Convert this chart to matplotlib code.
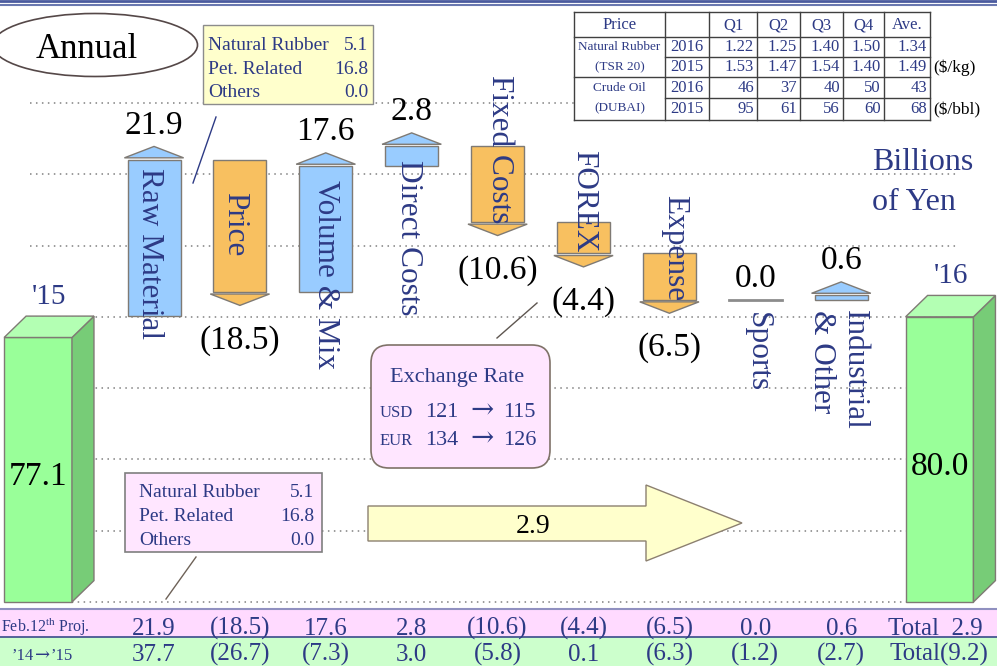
import matplotlib
matplotlib.use('Agg')
import matplotlib.pyplot as plt
import matplotlib.transforms as mtransforms
from matplotlib.patches import Rectangle, Polygon, Ellipse, FancyBboxPatch

plt.rcParams['font.family'] = ['Liberation Serif', 'DejaVu Serif']
plt.rcParams['mathtext.fontset'] = 'custom'
plt.rcParams['mathtext.rm'] = 'Liberation Serif'

# operating income bridge, billions of yen
start_label = "'15"
end_label = "'16"
start_total = 77.1
end_total = 80.0
step_names = ['Raw Material', 'Price', 'Volume & Mix', 'Direct Costs', 'Fixed Costs',
              'FOREX', 'Expense', 'Sports', 'Industrial\n& Other']
step_values = [21.9, -18.5, 17.6, 2.8, -10.6, -4.4, -6.5, 0.0, 0.6]
prev_values = [37.7, -26.7, -7.3, 3.0, -5.8, 0.1, -6.3, -1.2, -2.7]
proj_label = 'Feb.12$^{\\rm th}$ Proj.'
prev_from, prev_to = '\u201914', '\u201915'

# raw material breakdown
rm_items = ['Natural Rubber', 'Pet. Related', 'Others']
rm_values = [5.1, 16.8, 0.0]

# market prices
price_cols = ['Q1', 'Q2', 'Q3', 'Q4', 'Ave.']
rubber_2016 = [1.22, 1.25, 1.40, 1.50, 1.34]
rubber_2015 = [1.53, 1.47, 1.54, 1.40, 1.49]
oil_2016 = [46, 37, 40, 50, 43]
oil_2015 = [95, 61, 56, 60, 68]

fx_names = ['USD', 'EUR']
fx_2015 = [121, 134]
fx_2016 = [115, 126]

NAVY = '#2D3A85'
BLUE = '#99CCFF'
ORANGE = '#F8C060'
GREEN = '#99FF99'
GREEN_SIDE = '#77CC77'
GREEN_TOP = '#B3FFB3'
EDGE = '#7F7A74'
ARROW_FONT = ['DejaVu Serif']


def fmt(v):
    if v < 0:
        return '({:.1f})'.format(-v)
    return '{:.1f}'.format(v)


fig = plt.figure(figsize=(9.97, 6.66), dpi=100)

# value axes for the waterfall
ax = fig.add_axes([0, 0, 1, 1])
ax.set_xlim(-0.793, 10.814)
ax.set_ylim(31.02, 124.44)
ax.axis('off')

# pixel axes for boxes, table and text
ov = fig.add_axes([0, 0, 1, 1])
ov.set_xlim(0, 997)
ov.set_ylim(666, 0)
ov.axis('off')

colx = mtransforms.blended_transform_factory(ax.transData, ov.transData)

# dotted grid every 10
for g in range(40, 111, 10):
    right = 574 if g == 110 else 958
    ax.axhline(g, xmin=30 / 997, xmax=right / 997, color='#808080', lw=1.1,
               linestyle=(0, (1, 2.9)), zorder=1)

# 3D total bars
floor_val = 40
depth = 3.0
dx = 0.256
tw = 0.79


def total_bar(x, v, label, top_text):
    x0, x1 = x - tw / 2, x + tw / 2
    ax.add_patch(Rectangle((x0, floor_val), tw, v - floor_val, fc=GREEN, ec=EDGE, lw=1, zorder=3))
    ax.add_patch(Polygon([(x1, floor_val), (x1 + dx, floor_val + depth), (x1 + dx, v + depth), (x1, v)],
                         fc=GREEN_SIDE, ec=EDGE, lw=1, zorder=3))
    ax.add_patch(Polygon([(x0, v), (x1, v), (x1 + dx, v + depth), (x0 + dx, v + depth)],
                         fc=GREEN_TOP, ec=EDGE, lw=1, zorder=3))
    ax.annotate(label, ((x0 + x1) / 2, (floor_val + v) / 2), xytext=(0, -5), textcoords='offset points',
                ha='center', va='center', fontsize=24, zorder=4)
    ax.annotate(top_text, (x + dx / 2, v + depth), xytext=(0, 9), textcoords='offset points',
                ha='center', va='baseline', fontsize=21, color=NAVY, zorder=4)


total_bar(-0.35, start_total, fmt(start_total), start_label)
total_bar(10.145, end_total, fmt(end_total), end_label)

# steps
bw = 0.617
hw = 0.345
head_h = 1.6
gap = 0.3
level = start_total + depth
for i, v in enumerate(step_values):
    x = i + 1
    new = level + v
    if v == 0:
        ax.plot([x - bw / 2, x + bw / 2], [level, level], color='#8C8C8C', lw=2, zorder=3)
        tip = level
    else:
        color = BLUE if v > 0 else ORANGE
        sgn = 1 if v > 0 else -1
        ax.add_patch(Rectangle((x - bw / 2, min(level, new)), bw, abs(v), fc=color, ec=EDGE, lw=1, zorder=3))
        base = new + sgn * gap
        tip = base + sgn * head_h
        ax.add_patch(Polygon([(x - hw, base), (x + hw, base), (x, tip)], fc=color, ec=EDGE, lw=1, zorder=3))
    if v < 0:
        ax.annotate(fmt(v), (x, tip), xytext=(0, -14), textcoords='offset points',
                    ha='center', va='top', fontsize=24, zorder=4)
    else:
        ax.annotate(fmt(v), (x, tip), xytext=(0, 9), textcoords='offset points',
                    ha='center', va='baseline', fontsize=24, zorder=4)
    level = new

# vertical step names
name_pos = [(149, 168), (235, 192), (325, 180), (408, 160), (499, 75),
            (584, 150), (675, 195), (757, 312), (838, 310)]
for name, (px, py) in zip(step_names, name_pos):
    ov.text(px, py, name, rotation=-90, rotation_mode='anchor', ha='left', va='center',
            fontsize=22.5, color=NAVY, zorder=5)

# "Annual"
ov.add_patch(Ellipse((95, 45), 205, 63, fc='white', ec='#554848', lw=1.2))
ov.text(87, 58, 'Annual', fontsize=25, ha='center', va='baseline')

# raw material breakdown boxes
ov.add_patch(Rectangle((203, 25), 170, 79, fc='#FFFFCC', ec='#8C8C8C', lw=1))
for k, (name, val) in enumerate(zip(rm_items, rm_values)):
    ov.text(208, 50 + 23.5 * k, name, fontsize=14, color=NAVY, va='baseline')
    ov.text(368, 50 + 23.5 * k, '{:.1f}'.format(val), fontsize=14, color=NAVY, va='baseline', ha='right')
ov.plot([216, 193], [117, 183], color=NAVY, lw=1)

ov.add_patch(Rectangle((125, 473), 197, 79, fc='#FFE6FF', ec='#7F7F7F', lw=1.2))
for k, (name, val) in enumerate(zip(rm_items, rm_values)):
    ov.text(139, 497 + 24 * k, name, fontsize=14, color=NAVY, va='baseline')
    ov.text(314, 497 + 24 * k, '{:.1f}'.format(val), fontsize=14, color=NAVY, va='baseline', ha='right')
ov.plot([196, 166], [557, 599], color='#6E6258', lw=1)

# exchange rates
ov.add_patch(FancyBboxPatch((371, 345), 179, 123, boxstyle='round,pad=0,rounding_size=18',
                            fc='#FFE6FF', ec='#7F7268', lw=1.2))
ov.text(457, 382, 'Exchange Rate', fontsize=16, color=NAVY, ha='center', va='baseline')
for k, (name, a, b) in enumerate(zip(fx_names, fx_2015, fx_2016)):
    yb = 417 + 28 * k
    ov.text(380, yb, name, fontsize=12, color=NAVY, va='baseline')
    ov.text(425, yb, str(a), fontsize=16, color=NAVY, va='baseline')
    ov.text(482, yb - 6, '\u2192', fontsize=20, color=NAVY, ha='center', va='center', family=ARROW_FONT)
    ov.text(536, yb, str(b), fontsize=16, color=NAVY, va='baseline', ha='right')
ov.plot([537, 497], [303, 338], color='#5E5650', lw=1)

# total change arrow
ov.add_patch(Polygon([(368, 506), (646, 506), (646, 485), (742, 523), (646, 561), (646, 541), (368, 541)],
                     fc='#FFFFCC', ec='#8C8070', lw=1))
ov.text(533, 533, fmt(sum(step_values)), fontsize=20, ha='center', va='baseline')

# unit
ov.text(872, 170, 'Billions', fontsize=23, color=NAVY, va='baseline')
ov.text(872, 210, 'of Yen', fontsize=23, color=NAVY, va='baseline')

# price table
tx = [574, 665, 709, 757, 800, 843, 884, 930]
ty = [12, 37, 57, 77, 98, 120]
ov.add_patch(Rectangle((tx[0], ty[0]), tx[-1] - tx[0], ty[-1] - ty[0], fc='white', ec='none'))
for x in tx:
    ov.plot([x, x], [ty[0], ty[-1]], color='#404040', lw=1)
for y in [12, 37, 77, 120]:
    ov.plot([tx[0], tx[-1]], [y, y], color='#404040', lw=1)
for y in [57, 98]:
    ov.plot([tx[1], tx[-1]], [y, y], color='#404040', lw=1)
ov.text((tx[0] + tx[1]) / 2, 25, 'Price', fontsize=12, color=NAVY, ha='center', va='center')
for j, c in enumerate(price_cols):
    ov.text((tx[j + 2] + tx[j + 3]) / 2, 25, c, fontsize=12, color=NAVY, ha='center', va='center')
rows = [('2016', rubber_2016, '{:.2f}'), ('2015', rubber_2015, '{:.2f}'),
        ('2016', oil_2016, '{:d}'), ('2015', oil_2015, '{:d}')]
for r, (yr, vals, f) in enumerate(rows):
    yc = (ty[r + 1] + ty[r + 2]) / 2
    ov.text((tx[1] + tx[2]) / 2, yc, yr, fontsize=12, color=NAVY, ha='center', va='center')
    for j, val in enumerate(vals):
        ov.text(tx[j + 3] - 3, yc, f.format(val), fontsize=12, color=NAVY, ha='right', va='center')
for yc, t in zip([47, 67, 88, 108], ['Natural Rubber', '(TSR 20)', 'Crude Oil', '(DUBAI)']):
    ov.text((tx[0] + tx[1]) / 2, yc, t, fontsize=9.5, color=NAVY, ha='center', va='center')
ov.text(933, 68, '($/kg)', fontsize=12.5, va='center')
ov.text(933, 110, '($/bbl)', fontsize=12.5, va='center')

# summary rows
ov.add_patch(Rectangle((0, 609), 997, 28, fc='#FFDAFF', ec='none'))
ov.add_patch(Rectangle((0, 637), 997, 29, fc='#CCFFCC', ec='none'))
ov.plot([0, 997], [609, 609], color='#9090C0', lw=1.5)
ov.plot([0, 997], [637, 637], color='#3A4A8A', lw=1.2)
ov.text(1, 632, proj_label, fontsize=11.5, color=NAVY, ha='left', va='baseline')
ov.text(34, 660, prev_from, fontsize=12, color=NAVY, ha='right', va='baseline')
ov.text(42.5, 655, '\u2192', fontsize=13, color=NAVY, ha='center', va='center', family=ARROW_FONT)
ov.text(51, 660, prev_to, fontsize=12, color=NAVY, ha='left', va='baseline')
for i, (a, b) in enumerate(zip(step_values, prev_values)):
    ov.text(i + 1, 635, fmt(a), fontsize=18, color=NAVY, ha='center', va='baseline', transform=colx)
    ov.text(i + 1, 661, fmt(b), fontsize=18, color=NAVY, ha='center', va='baseline', transform=colx)
ov.text(935, 635, 'Total  ' + fmt(sum(step_values)), fontsize=18, color=NAVY, ha='center', va='baseline')
ov.text(939, 661, 'Total' + fmt(sum(prev_values)), fontsize=18, color=NAVY, ha='center', va='baseline')

# header rule
ov.plot([0, 997], [1, 1], color='#4A5A9E', lw=2)
ov.plot([0, 997], [5, 5], color='#6A78B0', lw=1.5)

fig.savefig('out.png', dpi=100)
